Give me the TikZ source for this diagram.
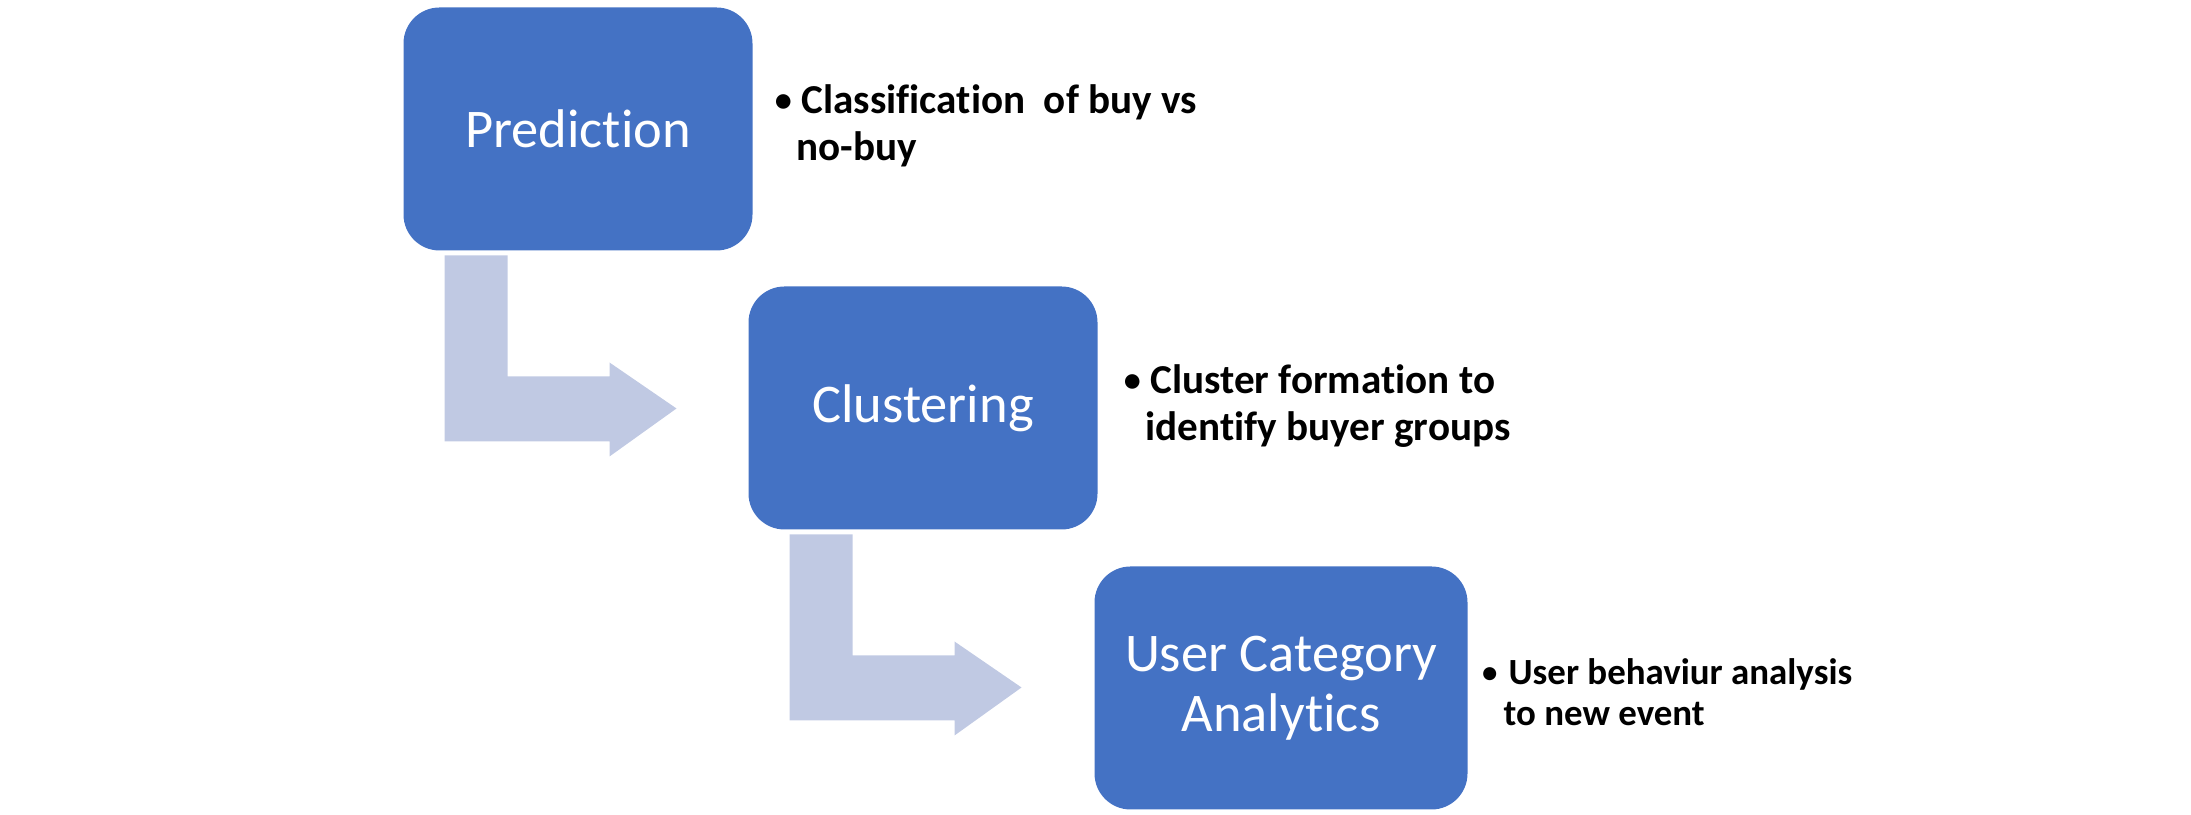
\documentclass[tikz,border=0pt]{standalone}
\usepackage{fontspec}
\setmainfont{Carlito}[Ligatures={NoCommon}]
\usetikzlibrary{positioning}
\definecolor{boxblue}{RGB}{68,114,196}
\definecolor{arrowlav}{RGB}{192,201,227}
\newcommand{\notebul}{\makebox[8pt][l]{\mdseries\textbullet}}
\newcommand{\notehang}{\hspace*{6.6pt}}

\begin{document}
\begin{tikzpicture}[
  box/.style={rectangle, rounded corners=0.36cm, fill=boxblue, text=white, minimum width=3.49cm, minimum height=2.43cm, align=center, inner sep=2pt, outer sep=0pt, font=\fontsize{15.5}{17}\selectfont},
  bullets/.style={inner sep=0pt, outer sep=0pt, align=left, font=\bfseries\fontsize{11.7}{13.4}\selectfont},
  bentarrow/.pic={\fill[arrowlav] (0.41,-0.05) -- (0.41,-1.91) -- (2.06,-1.91) -- (2.06,-2.06) -- (2.73,-1.58) -- (2.06,-1.12) -- (2.06,-1.26) -- (1.04,-1.26) -- (1.04,-0.05) -- cycle;}
]
\useasboundingbox (0,0) rectangle (21.91,8.15);
\node[box] (pred) at (5.78,6.86) {Prediction};
\node[box, below right=0.36cm and -0.04cm of pred] (clust) {Clustering};
\node[box, minimum width=3.73cm, below right=0.37cm and -0.03cm of clust] (ucat) {User Category\\Analytics};
% side notes
\node[bullets, right=0.21cm of pred, yshift=0.03cm] (predtxt) {\notebul Classification~ of buy vs\\\notehang no-buy};
\node[bullets, right=0.25cm of clust, yshift=0.02cm] (clusttxt) {\notebul Cluster formation to\\\notehang identify buyer groups};
\node[bullets, right=0.13cm of ucat, yshift=-0.045cm, font=\bfseries\fontsize{10.5}{11.7}\selectfont] (ucattxt) {\notebul User behaviur analysis\\\notehang to new event};
% bent arrows
\pic at (pred.south west) {bentarrow};
\pic at (clust.south west) {bentarrow};
\end{tikzpicture}
\end{document}
